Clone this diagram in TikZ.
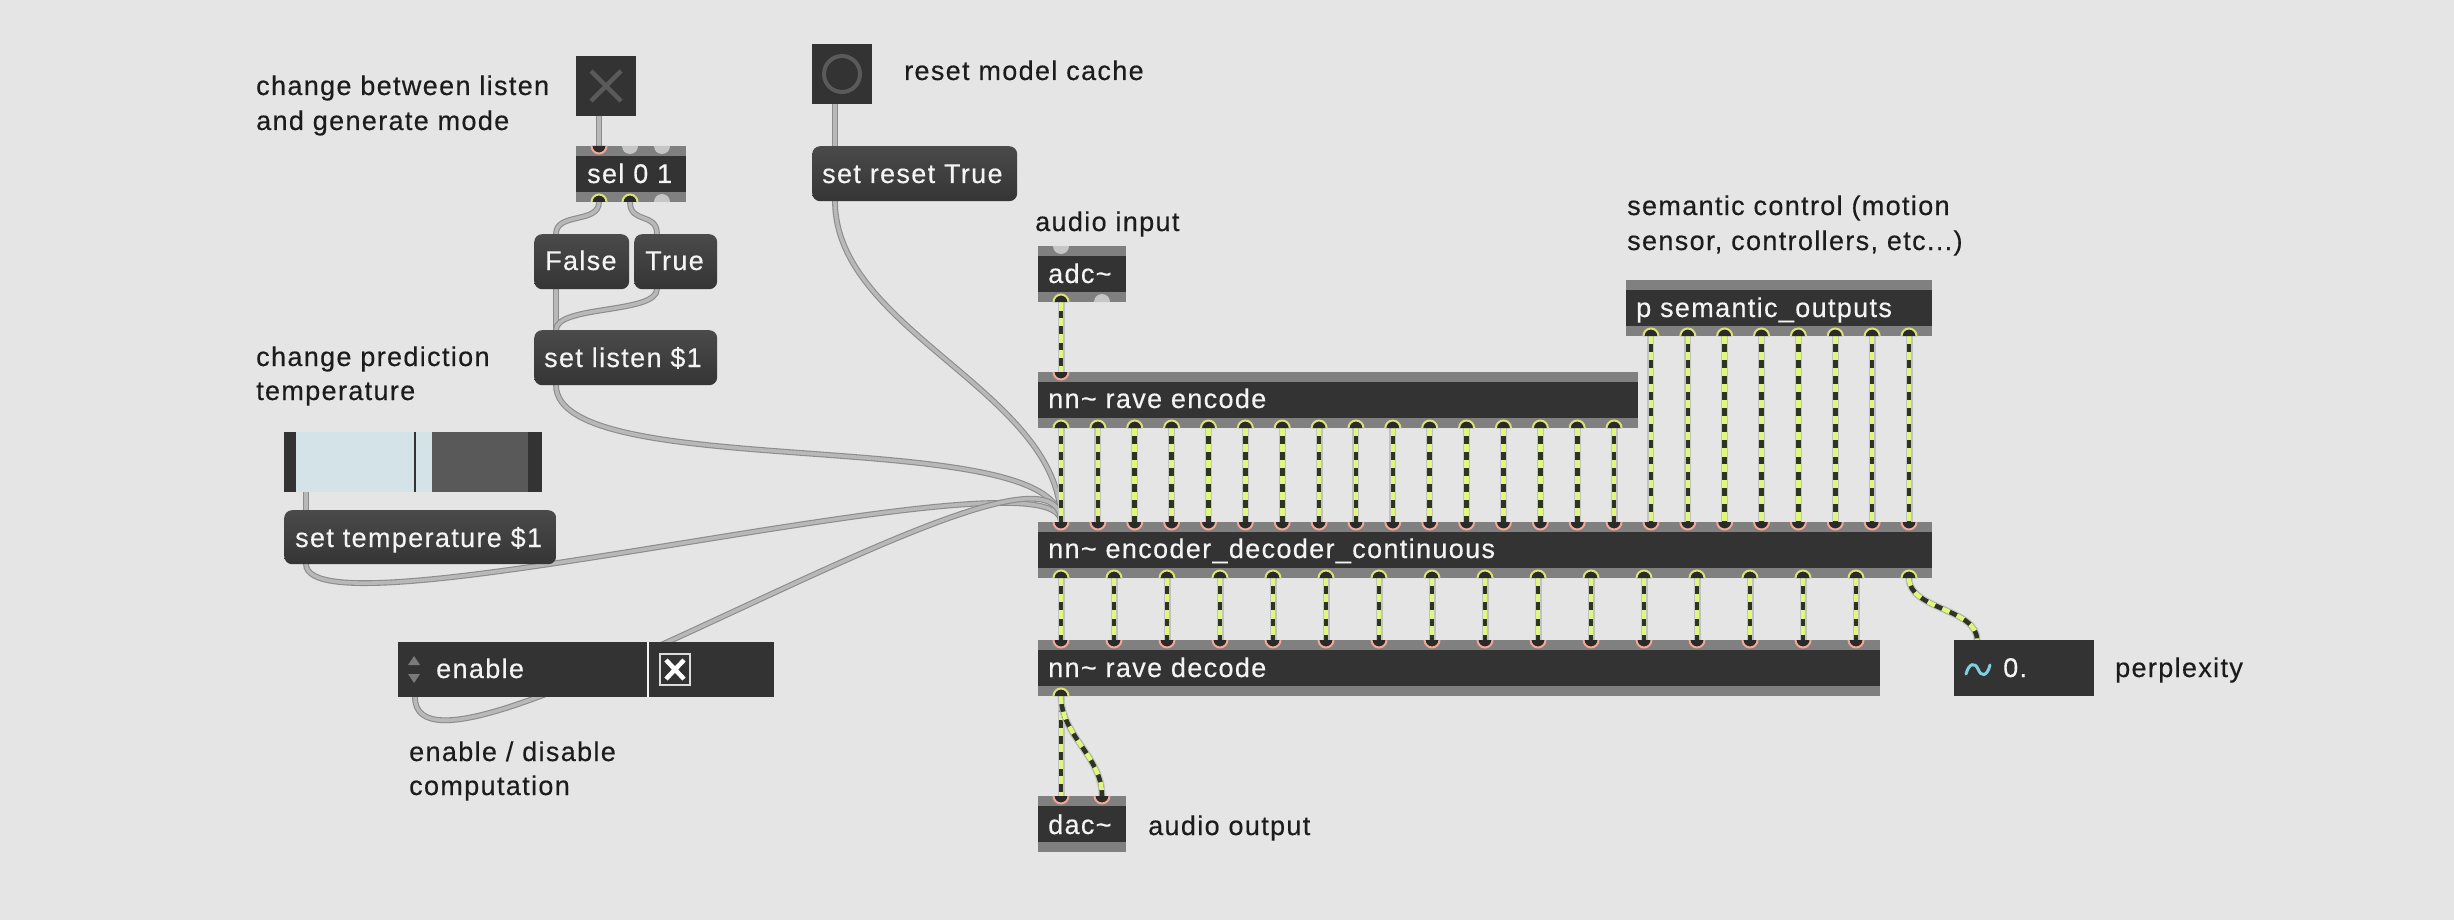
\documentclass[tikz,border=0pt]{standalone}
\usepackage{fontspec}
\setmainfont{Liberation Sans}[LetterSpace=5, FakeBold=0.4]
\usetikzlibrary{calc}
\definecolor{bg}{HTML}{E5E5E5}
\definecolor{boxc}{HTML}{333333}
\definecolor{barc}{HTML}{808080}
\definecolor{msgtop}{HTML}{4A4A4A}
\definecolor{msgbot}{HTML}{353535}
\definecolor{inc}{HTML}{F2A895}
\definecolor{outc}{HTML}{DCE275}
\definecolor{portfill}{HTML}{2A2A2A}
\definecolor{offport}{HTML}{C6C6C6}
\definecolor{cabout}{HTML}{8C8C8C}
\definecolor{cabin}{HTML}{B8B8B8}
\definecolor{sigy}{HTML}{DFF77E}
\definecolor{sigd}{HTML}{2E3322}
\definecolor{sigo}{HTML}{C2C2C2}
\definecolor{txt}{HTML}{1C1C1C}
\definecolor{wtxt}{HTML}{F4F4F4}
\definecolor{slblue}{HTML}{D3E3E8}
\definecolor{slgray}{HTML}{595959}
\definecolor{icon}{HTML}{5A5A5A}
\definecolor{wave}{HTML}{7ED0E0}
\definecolor{arrowc}{HTML}{7A7A7A}
\tikzset{
  objbox/.style={fill=boxc, inner sep=0pt, minimum height=56pt, anchor=north west,
    path picture={\fill[barc] (path picture bounding box.north west) rectangle ([yshift=-10pt]path picture bounding box.north east);
      \fill[barc] ([yshift=10pt]path picture bounding box.south west) rectangle (path picture bounding box.south east);}},
  msgbox/.style={rounded corners=8pt, top color=msgtop, bottom color=msgbot, inner sep=0pt, anchor=north west, minimum height=55pt},
  darkbox/.style={fill=boxc, inner sep=0pt, anchor=north west},
  wtext/.style={text=wtxt, anchor=base west, inner sep=0pt},
  ltext/.style={text=txt, anchor=base west, inner sep=0pt},
  ctrl/.style={draw=cabout, line width=1.1pt, double=cabin, double distance=3.6pt, line cap=round},
  sig/.style={preaction={draw=sigo, line width=7pt}, draw=sigd, line width=4.6pt,
    postaction={draw=sigy, line width=4.6pt, dash pattern=on 8pt off 8pt}},
  every node/.style={font=\fontsize{27pt}{32pt}\selectfont}
}
\newcommand\ccab[3]{\draw[ctrl] (#1) .. controls ($(#1)+(0,#3)$) and ($(#2)+(0,-#3)$) .. (#2);}
\newcommand\scab[3]{\draw[sig] (#1) .. controls ($(#1)+(0,#3)$) and ($(#2)+(0,-#3)$) .. (#2);}
\newcommand\inp[1]{\fill[portfill] ($(#1)+(-7.5pt,0)$) arc[start angle=180,end angle=360,radius=7.5pt] -- cycle;
  \draw[inc, line width=2pt] ($(#1)+(-7.5pt,0)$) arc[start angle=180,end angle=360,radius=7.5pt];}
\newcommand\outp[1]{\fill[portfill] ($(#1)+(-7.5pt,0)$) arc[start angle=180,end angle=0,radius=7.5pt] -- cycle;
  \draw[outc, line width=2pt] ($(#1)+(-7.5pt,0)$) arc[start angle=180,end angle=0,radius=7.5pt];}
\newcommand\offin[1]{\fill[offport] ($(#1)+(-8pt,0)$) arc[start angle=180,end angle=360,radius=8pt] -- cycle;}
\newcommand\offout[1]{\fill[offport] ($(#1)+(-8pt,0)$) arc[start angle=180,end angle=0,radius=8pt] -- cycle;}
\begin{document}
\begin{tikzpicture}[x=1pt,y=-1pt]
\fill[bg] (0,0) rectangle (2454,920);
\useasboundingbox (0,0) rectangle (2454,920);
% ---------- port coordinates
\coordinate (tog-o) at (599,116);
\coordinate (sel-i1) at (599,146);
\coordinate (sel-i2) at (630,146);
\coordinate (sel-i3) at (662,146);
\coordinate (sel-o1) at (599,202);
\coordinate (sel-o2) at (630,202);
\coordinate (sel-o3) at (662,202);
\coordinate (false-i) at (556,234);
\coordinate (false-o) at (556,289);
\coordinate (true-i) at (657,234);
\coordinate (true-o) at (657,289);
\coordinate (listen-i) at (556,330);
\coordinate (listen-o) at (556,385);
\coordinate (btn-o) at (835,104);
\coordinate (reset-i) at (835,146);
\coordinate (reset-o) at (835,201);
\coordinate (slider-o) at (306,492);
\coordinate (temp-i) at (306,510);
\coordinate (temp-o) at (306,564);
\coordinate (attr-o) at (415,697);
\coordinate (adc-i) at (1061,246);
\coordinate (adc-o1) at (1061,302);
\coordinate (adc-o2) at (1102,302);
\coordinate (enc-i) at (1061,372);
\foreach \k in {0,...,15}{\pgfmathsetmacro\xx{1061+36.87*\k}\coordinate (enc-o\k) at (\xx,428);}
\foreach \k in {16,...,23}{\pgfmathsetmacro\xx{1061+36.87*\k}\coordinate (sem-o\k) at (\xx,336);}
\foreach \k in {0,...,23}{\pgfmathsetmacro\xx{1061+36.87*\k}\coordinate (ed-i\k) at (\xx,522);}
\foreach \k in {0,...,16}{\pgfmathsetmacro\xx{1061+53*\k}\coordinate (ed-o\k) at (\xx,578);}
\foreach \k in {0,...,15}{\pgfmathsetmacro\xx{1061+53*\k}\coordinate (dec-i\k) at (\xx,640);}
\coordinate (dec-o) at (1061,696);
\coordinate (dac-i1) at (1061,796);
\coordinate (dac-i2) at (1102,796);
\coordinate (perp-i) at (1977,640);
% ---------- control cables
\ccab{tog-o}{sel-i1}{10}
\ccab{sel-o1}{false-i}{22}
\ccab{sel-o2}{true-i}{22}
\ccab{false-o}{listen-i}{15}
\ccab{true-o}{listen-i}{25}
\ccab{btn-o}{reset-i}{10}
\ccab{slider-o}{temp-i}{8}
\ccab{listen-o}{ed-i0}{100}
\ccab{reset-o}{ed-i0}{130}
\ccab{temp-o}{ed-i0}{80}
\ccab{attr-o}{ed-i0}{125}
% ---------- signal cables
\scab{adc-o1}{enc-i}{20}
\foreach \k in {0,...,15}{\scab{enc-o\k}{ed-i\k}{20}}
\foreach \k in {16,...,23}{\scab{sem-o\k}{ed-i\k}{20}}
\foreach \k in {0,...,15}{\scab{ed-o\k}{dec-i\k}{15}}
\scab{ed-o16}{perp-i}{32}
\scab{dec-o}{dac-i1}{20}
\scab{dec-o}{dac-i2}{40}
% ---------- boxes
\node[darkbox, minimum width=60pt, minimum height=60pt] (toggle) at (576,56) {};
\draw[icon, line width=4.5pt] (591,71) -- (621,101) (621,71) -- (591,101);
\node[objbox, minimum width=110pt] (sel) at (576,146) {};
\node[msgbox, minimum width=95pt] (false) at (534,234) {};
\node[msgbox, minimum width=83pt] (true) at (634,234) {};
\node[msgbox, minimum width=183pt] (listen) at (534,330) {};
\node[darkbox, minimum width=60pt, minimum height=60pt] (button) at (812,44) {};
\draw[icon, line width=4pt] (842,74) circle[radius=18pt];
\node[msgbox, minimum width=205pt] (reset) at (812,146) {};
\node[objbox, minimum width=88pt] (adc) at (1038,246) {};
\node[objbox, minimum width=600pt] (encode) at (1038,372) {};
\node[objbox, minimum width=306pt] (semantic) at (1626,280) {};
\node[objbox, minimum width=894pt] (encdec) at (1038,522) {};
\node[objbox, minimum width=842pt] (decode) at (1038,640) {};
\node[objbox, minimum width=88pt] (dac) at (1038,796) {};
\node[darkbox, minimum width=140pt, minimum height=56pt] (perp) at (1954,640) {};
\draw[wave, line width=3pt, line cap=round] (1966,674) .. controls (1969,663) and (1975,662) .. (1978,669) .. controls (1981,677) and (1987,677) .. (1990,665);
% slider
\node[darkbox, minimum width=258pt, minimum height=60pt] (slider) at (284,432) {};
\fill[slblue] (296,432) rectangle (432,492);
\fill[slgray] (432,432) rectangle (528,492);
\draw[boxc, line width=1.5pt] (415,432) -- (415,492);
\node[msgbox, minimum width=272pt, minimum height=54pt] (temp) at (284,510) {};
% attrui
\node[darkbox, minimum width=376pt, minimum height=55pt] (attrui) at (398,642) {};
\draw[wtxt, line width=2pt] (648,642) -- (648,697);
\draw[wtxt!90!black, line width=2pt] (660,654) rectangle (690,685);
\draw[white, line width=4.5pt] (666,660) -- (684,679) (684,660) -- (666,679);
\fill[arrowc] (408,665) -- (420,665) -- (414,656) -- cycle;
\fill[arrowc] (408,674) -- (420,674) -- (414,683) -- cycle;
% ---------- ports
\inp{sel-i1} \offin{sel-i2} \offin{sel-i3}
\outp{sel-o1} \outp{sel-o2} \offout{sel-o3}
\offin{adc-i} \outp{adc-o1} \offout{adc-o2}
\inp{enc-i}
\foreach \k in {0,...,15}{\outp{enc-o\k}}
\foreach \k in {16,...,23}{\outp{sem-o\k}}
\foreach \k in {0,...,23}{\inp{ed-i\k}}
\foreach \k in {0,...,16}{\outp{ed-o\k}}
\foreach \k in {0,...,15}{\inp{dec-i\k}}
\outp{dec-o}
\inp{dac-i1} \inp{dac-i2}
% ---------- box texts
\node[wtext] (sel-t) at (587,183) {sel 0 1};
\node[wtext] (false-t) at (545,270) {False};
\node[wtext] (true-t) at (645,270) {True};
\node[wtext] (listen-t) at (544,367) {set listen \$1};
\node[wtext] (reset-t) at (822,183) {set reset True};
\node[wtext] (adc-t) at (1048,283) {adc\textasciitilde};
\node[wtext] (encode-t) at (1048,408) {nn\textasciitilde{} rave encode};
\node[wtext] (semantic-t) at (1636,317) {p semantic\_outputs};
\node[wtext] (encdec-t) at (1048,558) {nn\textasciitilde{} encoder\_decoder\_continuous};
\node[wtext] (decode-t) at (1048,677) {nn\textasciitilde{} rave decode};
\node[wtext] (dac-t) at (1048,834) {dac\textasciitilde};
\node[wtext] (temp-t) at (295,547) {set temperature \$1};
\node[wtext] (attrui-t) at (436,678) {enable};
\node[wtext] (perp-t) at (2003,677) {0.};
% ---------- labels
\node[ltext] (l1a) at (256,95) {change between listen};
\node[ltext] (l1b) at (256,130) {and generate mode};
\node[ltext] (l2) at (904,80) {reset model cache};
\node[ltext] (l3) at (1035,231) {audio input};
\node[ltext] (l4a) at (1627,215) {semantic control (motion};
\node[ltext] (l4b) at (1627,250) {sensor, controllers, etc...)};
\node[ltext] (l5a) at (256,366) {change prediction};
\node[ltext] (l5b) at (256,400) {temperature};
\node[ltext] (l6a) at (409,761) {enable / disable};
\node[ltext] (l6b) at (409,795) {computation};
\node[ltext] (l7) at (1148,835) {audio output};
\node[ltext] (l8) at (2115,677) {perplexity};
\end{tikzpicture}
\end{document}
